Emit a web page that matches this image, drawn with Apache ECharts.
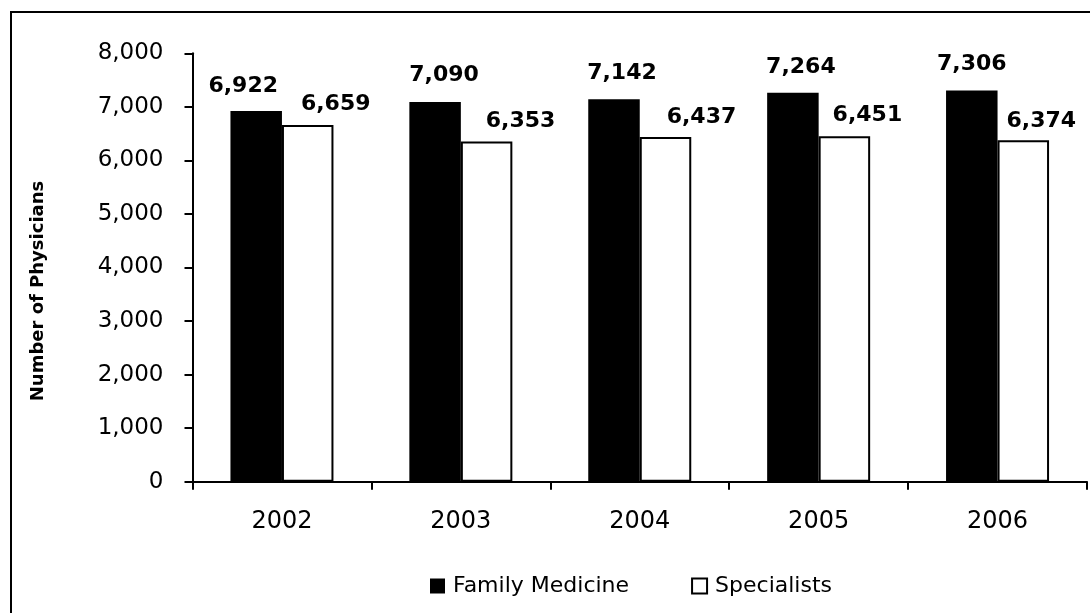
<!DOCTYPE html>
<html>
<head>
<meta charset="utf-8">
<script src="https://cdn.jsdelivr.net/npm/echarts@6/dist/echarts.min.js"></script>
<style>
  html, body { margin: 0; padding: 0; background: #fff; }
  #chart { width: 1090px; height: 613px; }
</style>
</head>
<body>
<div id="chart"></div>
<script>
// Physician counts by year
const years = ['2002', '2003', '2004', '2005', '2006'];
const familyMedicine = [6922, 7090, 7142, 7264, 7306];
const specialists = [6659, 6353, 6437, 6451, 6374];
const seriesNames = ['Family Medicine', 'Specialists'];
const axisTitle = 'Number of Physicians';

// Hand-placed value label nudges [dx, dy] in pixels
const familyLabelShift = [[-13, -6], [9, -8], [8, -7], [8, -6], [0, -7]];
const specialistLabelShift = [[28, -2], [34, -1], [36, -1], [23, -2], [18, 0]];

const FONT = 'DejaVu Sans';
const fmt = v => v.toLocaleString('en-US');

function withLabels(values, shifts) {
  return values.map((v, i) => ({ value: v, label: { offset: shifts[i] } }));
}

const chart = echarts.init(document.getElementById('chart'), null, { renderer: 'canvas' });

const valueLabel = {
  show: true,
  position: 'top',
  distance: 8,
  color: '#000',
  fontFamily: FONT,
  fontWeight: 'bold',
  fontSize: 22,
  formatter: p => fmt(p.value)
};

chart.setOption({
  backgroundColor: '#fff',
  animation: false,
  graphic: [
    {
      // frame around the chart area
      type: 'rect',
      shape: { x: 11, y: 12, width: 1200, height: 800 },
      style: { fill: 'none', stroke: '#000', lineWidth: 2 },
      silent: true
    },
    {
      // vertical axis title
      type: 'text',
      x: 38,
      y: 291,
      rotation: Math.PI / 2,
      style: {
        text: axisTitle,
        fontFamily: FONT,
        fontWeight: 'bold',
        fontSize: 18,
        fill: '#000',
        align: 'center',
        verticalAlign: 'middle'
      },
      silent: true
    }
  ],
  grid: { left: 192.5, right: 3, top: 53.3, bottom: 131.3 },
  legend: {
    left: 425,
    top: 570,
    itemWidth: 15,
    itemHeight: 15,
    itemGap: 62,
    icon: 'rect',
    textStyle: { fontFamily: FONT, fontSize: 22, color: '#000', padding: [0, 0, 0, 3] },
    data: seriesNames
  },
  xAxis: {
    type: 'category',
    data: years,
    boundaryGap: true,
    axisLine: { lineStyle: { color: '#000', width: 2 } },
    axisTick: { show: true, length: 8, lineStyle: { color: '#000', width: 2 } },
    axisLabel: { color: '#000', fontFamily: FONT, fontSize: 24, margin: 28 }
  },
  yAxis: {
    type: 'value',
    min: 0,
    max: 8000,
    interval: 1000,
    axisLine: { show: true, lineStyle: { color: '#000', width: 2 } },
    axisTick: { show: true, length: 8, lineStyle: { color: '#000', width: 2 } },
    splitLine: { show: false },
    axisLabel: { color: '#000', fontFamily: FONT, fontSize: 23, margin: 29, formatter: v => fmt(v) }
  },
  series: [
    {
      name: seriesNames[0],
      type: 'bar',
      barWidth: 51.5,
      barGap: '0%',
      itemStyle: { color: '#000' },
      label: valueLabel,
      data: withLabels(familyMedicine, familyLabelShift)
    },
    {
      name: seriesNames[1],
      type: 'bar',
      barWidth: 51.5,
      barGap: '0%',
      itemStyle: { color: '#fff', borderColor: '#000', borderWidth: 2 },
      label: valueLabel,
      data: withLabels(specialists, specialistLabelShift)
    }
  ]
});
</script>
</body>
</html>
